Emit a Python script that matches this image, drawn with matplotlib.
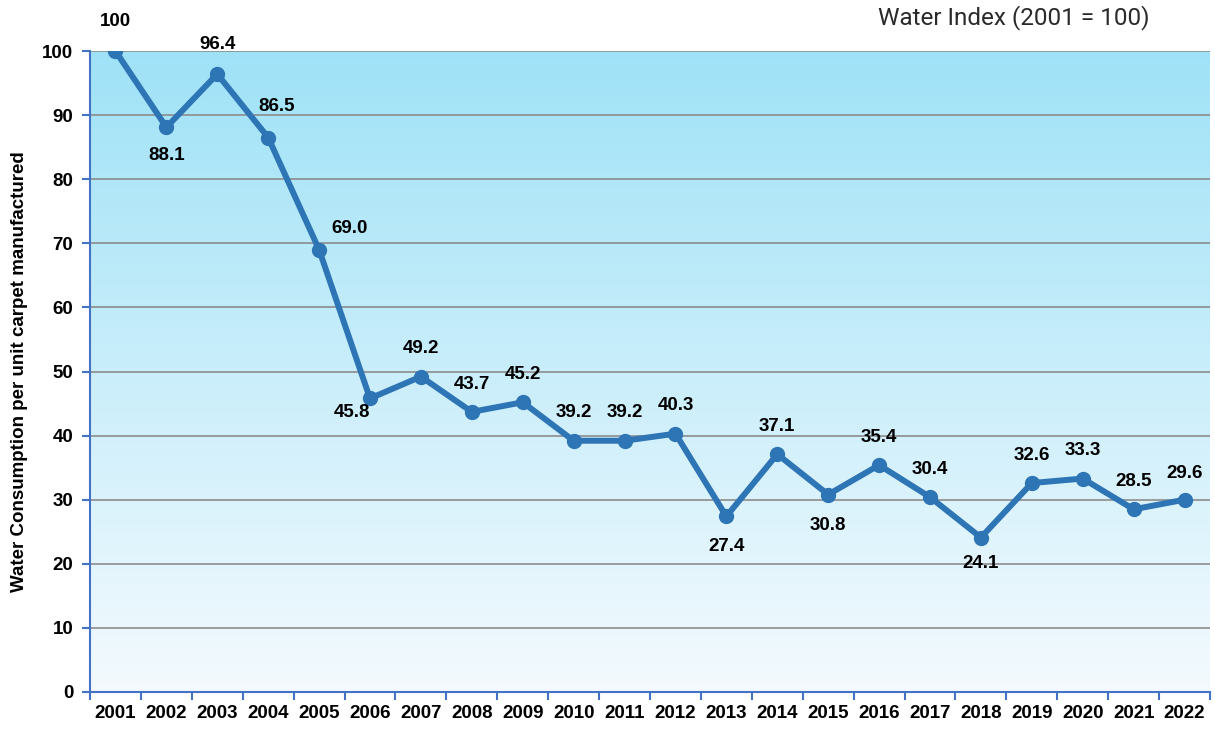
import matplotlib
matplotlib.use('Agg')
import matplotlib.pyplot as plt
import numpy as np
from matplotlib.colors import LinearSegmentedColormap

# data
years = ['2001', '2002', '2003', '2004', '2005', '2006', '2007', '2008', '2009', '2010', '2011',
         '2012', '2013', '2014', '2015', '2016', '2017', '2018', '2019', '2020', '2021', '2022']
index_values = [100, 88.1, 96.4, 86.5, 69.0, 45.8, 49.2, 43.7, 45.2, 39.2, 39.2,
                40.3, 27.4, 37.1, 30.8, 35.4, 30.4, 24.1, 32.6, 33.3, 28.5, 30.0]
value_labels = ['100', '88.1', '96.4', '86.5', '69.0', '45.8', '49.2', '43.7', '45.2', '39.2', '39.2',
                '40.3', '27.4', '37.1', '30.8', '35.4', '30.4', '24.1', '32.6', '33.3', '28.5', '29.6']

# label placement (points offset from marker)
label_offsets = [(0, 21), (0, -20), (0, 21), (6, 22), (22, 15), (-13, -10), (0, 20), (0, 20),
                 (0, 20), (0, 20), (0, 20), (0, 20), (0, -22), (0, 20), (0, -22), (0, 20),
                 (0, 20), (0, -19), (0, 20), (0, 20), (0, 20), (0, 19)]

LINE_COLOR = '#2E75B6'
AXIS_COLOR = '#4472C4'
FONT = ['Liberation Sans', 'DejaVu Sans']

fig = plt.figure(figsize=(12.15, 7.31), dpi=100)
ax = fig.add_axes([90 / 1215, 39 / 731, 1120 / 1215, 641 / 731])

x = np.arange(len(years))

# vertical gradient background
cmap = LinearSegmentedColormap.from_list('bg', ['#F4FAFE', '#9FE2F7'])
grad = np.linspace(0, 1, 256).reshape(-1, 1)
ax.imshow(grad, cmap=cmap, origin='lower', aspect='auto',
          extent=(-0.5, len(years) - 0.5, 0, 100), zorder=0)

ax.set_xlim(-0.5, len(years) - 0.5)
ax.set_ylim(0, 100)

for yv in range(10, 101, 10):
    ax.axhline(yv, color='#8C8C8C', lw=1.2, zorder=1)

ax.plot(x, index_values, color=LINE_COLOR, lw=4.3, marker='o', markersize=10, zorder=3)

for xi, yi, lab, off in zip(x, index_values, value_labels, label_offsets):
    ax.annotate(lab, (xi, yi), xytext=off, textcoords='offset points',
                ha='center', va='center', fontsize=13.5, fontweight='bold', family=FONT)

# spines and ticks
for s in ['top', 'right']:
    ax.spines[s].set_visible(False)
for s in ['left', 'bottom']:
    ax.spines[s].set_color(AXIS_COLOR)
    ax.spines[s].set_linewidth(1.5)

ax.set_yticks(range(0, 101, 10))
ax.set_yticklabels([str(v) for v in range(0, 101, 10)], fontsize=13.5, fontweight='bold', family=FONT)
ax.set_xticks(np.arange(-0.5, len(years), 1.0))
ax.set_xticklabels([])
ax.set_xticks(x, minor=True)
ax.set_xticklabels(years, minor=True, fontsize=13.5, fontweight='bold', family=FONT)
ax.tick_params(axis='x', which='major', length=6, width=1.5, color=AXIS_COLOR)
ax.tick_params(axis='x', which='minor', length=0, pad=9)
ax.tick_params(axis='y', length=6, width=1.5, color=AXIS_COLOR, pad=6)

ax.set_ylabel('Water Consumption per unit carpet manufactured', fontsize=13.5,
              fontweight='bold', family=FONT, labelpad=10)

fig.text(1150 / 1215, 1 - 18 / 731, 'Water Index (2001 = 100)', ha='right', va='center',
         fontsize=17.5, fontweight='normal', family=['Roboto', 'DejaVu Sans'], color='#2A2A2A')

fig.savefig('out.png', dpi=100)
